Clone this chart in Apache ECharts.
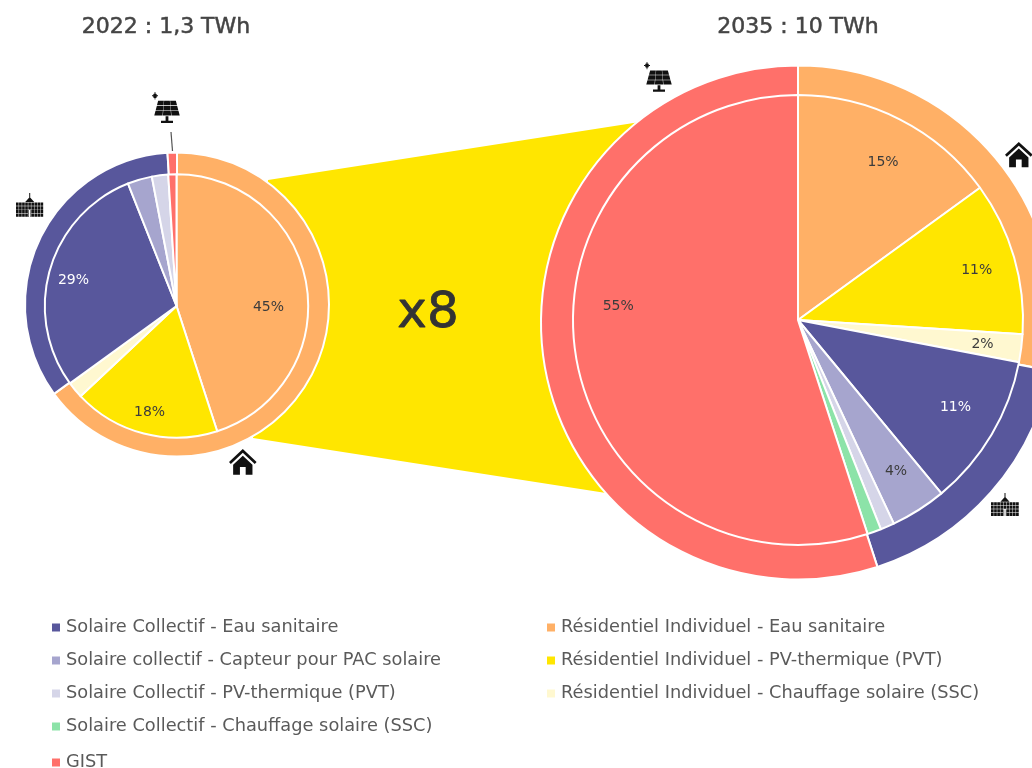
<!DOCTYPE html>
<html><head><meta charset="utf-8">
<style>html,body{margin:0;padding:0;background:#fff;overflow:hidden}#c{width:1032px;height:768px;filter:blur(.6px)}</style>
<script src="https://cdn.jsdelivr.net/npm/echarts@6/dist/echarts.min.js"></script>
</head><body><div id="c"></div>
<script>
const categories = [
  "Résidentiel Individuel - Eau sanitaire",
  "Résidentiel Individuel - PV-thermique (PVT)",
  "Résidentiel Individuel - Chauffage solaire (SSC)",
  "Solaire Collectif - Eau sanitaire",
  "Solaire collectif - Capteur pour PAC solaire",
  "Solaire Collectif - PV-thermique (PVT)",
  "Solaire Collectif - Chauffage solaire (SSC)",
  "GIST"
];
const colors = ["#FFB066","#FFE600","#FFF8D0","#58579C","#A6A5CE","#D5D5E8","#8CE3A8","#FF706A"];
const share2022 = [45,18,2,29,3,2,0,1];
const share2035 = [15,11,2,11,4,1,1,55];
const groups = ["Résidentiel","Collectif","GIST"];
const groupColors = ["#FFB066","#58579C","#FF706A"];
const groups2022 = [65,34,1];
const groups2035 = [28,17,55];
const titles = ["2022 : 1,3 TWh","2035 : 10 TWh"];
const labelDark = "#3c3c3c";
const FONT = "DejaVu Sans";

function slices(vals){
  return categories.map((n,i)=>({name:n,value:vals[i],itemStyle:{color:colors[i]}})).filter(d=>d.value>0);
}
function ring(vals){ return groups.map((n,i)=>({name:n,value:vals[i],itemStyle:{color:groupColors[i]}})); }
function labelled(vals,minShown){
  return categories.map((n,i)=>({name:n,value:vals[i],
    label:{show:vals[i]>=minShown,color:i===3?"#fff":labelDark}})).filter(d=>d.value>0);
}
const pieBase = {type:"pie",startAngle:90,clockwise:true,avoidLabelOverlap:false,silent:true,animation:false,
  label:{show:false},labelLine:{show:false},emphasis:{disabled:true}};
function panel(outerC,outerR,innerC,innerR,vals,grp,minShown,nudges){
  return [
    Object.assign({},pieBase,{center:outerC,radius:[0,outerR],z:2,data:ring(grp),
      itemStyle:{borderColor:"#fff",borderWidth:2}}),
    Object.assign({},pieBase,{center:innerC,radius:[0,innerR],z:3,data:slices(vals),
      itemStyle:{borderColor:"#fff",borderWidth:2}}),
    Object.assign({},pieBase,{center:innerC,radius:[innerR*0.6,innerR],z:4,data:labelled(vals,minShown),
      itemStyle:{color:"rgba(0,0,0,0)",borderWidth:0},
      label:{show:true,position:"inside",formatter:"{c}%",fontFamily:FONT,fontSize:14},
      labelLayout:p=>{const n=nudges[p.dataIndex]; return n?{dx:n[0],dy:n[1]}:{};}})
  ];
}

// icon outlines
function box(x,y,w,h){return `M${x} ${y}H${x+w}V${y+h}H${x}Z`;}
const housePath="M0 11.5L12 0L24 11.5L22.4 13.4L12 3.4L1.6 13.4ZM3.6 14L12 6L20.4 14V23H14.5V16H9.5V23H3.6Z";
let schoolPath="M9.4 8L14 3.5L18.6 8Z M13.5 0H14.5V3.8H13.5Z";
for(let r=0;r<4;r++)for(let c=0;c<9;c++){
  if(c===4&&r>1)continue;
  schoolPath+=box(c*3.13,8.4+r*3.2,2.7,2.8);
}
schoolPath+=box(12.6,15,0.6,6)+box(14.8,15,0.6,6);
let solarPath="M13.6 19.4H16.4V23H13.6Z M9 23H21V24.8H9Z";
const panelEdge=(y,u)=>{const l=6-(y-7)/12*4,r=24+(y-7)/12*4;return l+(r-l)*u;};
for(let r=0;r<3;r++)for(let c=0;c<3;c++){
  const y0=7+r*4.1,y1=y0+3.6,u0=c/3+0.008,u1=(c+1)/3-0.008;
  solarPath+=`M${panelEdge(y0,u0)} ${y0}H${panelEdge(y0,u1)}L${panelEdge(y1,u1)} ${y1}H${panelEdge(y1,u0)}Z`;
}
solarPath+=box(2.6,0,0.8,1)+box(2.6,5,0.8,1)+box(0,2.6,1,0.8)+box(5,2.6,1,0.8);
solarPath+="M3 1A2 2 0 1 0 3 5A2 2 0 1 0 3 1Z";
echarts.graphic.registerShape("iconHouse",echarts.graphic.extendPath(housePath,{}));
echarts.graphic.registerShape("iconSchool",echarts.graphic.extendPath(schoolPath,{}));
echarts.graphic.registerShape("iconSolar",echarts.graphic.extendPath(solarPath,{}));
function icon(type,x,y,sx,sy){
  return {type,z:5,silent:true,x,y,scaleX:sx,scaleY:sy,style:{fill:"#111"}};
}

const option={
  backgroundColor:"#fff",
  animation:false,
  title:titles.map((t,i)=>({text:t,left:[161,793][i],top:11,textAlign:"center",
    textStyle:{fontFamily:FONT,fontSize:22,fontWeight:"normal",color:"#444",textBorderColor:"#444",textBorderWidth:0.5}})),
  legend:[
    {left:47,top:612,orient:"vertical",itemGap:12,data:categories.slice(3,7)},
    {left:542,top:612,orient:"vertical",itemGap:12,data:categories.slice(0,3)},
    {left:47,top:747,orient:"vertical",data:categories.slice(7)}
  ].map(l=>Object.assign(l,{icon:"rect",itemWidth:8,itemHeight:8,itemStyle:{borderWidth:0},selectedMode:false,
    textStyle:{fontFamily:FONT,fontSize:17.8,color:"#5a5a5a",padding:[0,0,0,1],lineHeight:21}})),
  graphic:{elements:[
    {type:"polygon",z:0,silent:true,shape:{points:[[268,180],[640,122],[606,493],[253,438]]},style:{fill:"#FFE600"}},
    {type:"text",z:1,silent:true,x:428,y:314,style:{text:"x8",fontFamily:FONT,fontSize:50,fill:"#333",stroke:"#333",lineWidth:0.8,align:"center",verticalAlign:"middle"}},
    {type:"line",z:1,silent:true,shape:{x1:171,y1:132,x2:172.5,y2:151},style:{stroke:"#555",lineWidth:1.2}},
    icon("iconSolar",152,92,1,1.25),
    icon("iconSolar",644,62,1,1.2),
    icon("iconSchool",16,193,0.98,1.14),
    icon("iconSchool",991,493,1,1.1),
    icon("iconHouse",229,449,1.15,1.12),
    icon("iconHouse",1005,142,1.15,1.1)
  ]},
  series:[
    ...panel([177,304.5],152,[176.5,306],131.7,share2022,groups2022,10,
      {0:[-15,18],1:[0,1],3:[1,5]}),
    ...panel([798,322.5],257,[798,320],225,share2035,groups2035,2,
      {0:[2,5],1:[3,1],2:[3,1],3:[0,-6],4:[0,-3],7:[1,-42]})
  ]
};
const chart=echarts.init(document.getElementById("c"),null,{renderer:"canvas"});
chart.setOption(option);
</script></body></html>
